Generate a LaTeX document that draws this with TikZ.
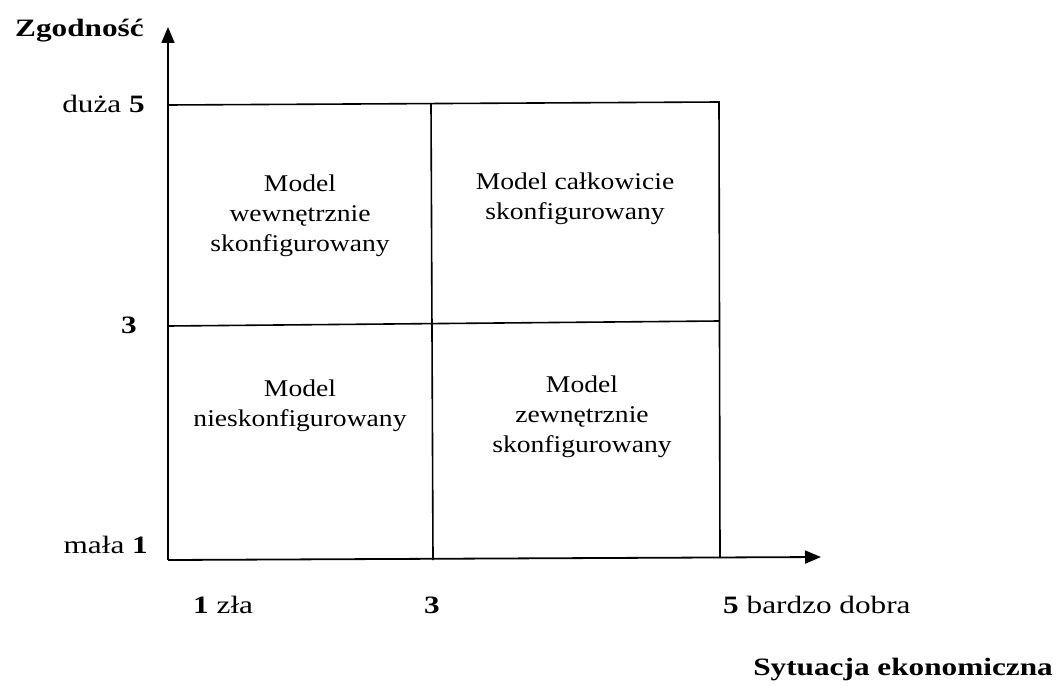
\documentclass[tikz,border=0pt]{standalone}
\usepackage{fontspec}
\setmainfont{Liberation Serif}[FakeStretch=1.25]
\newfontfamily\cellfont{Liberation Serif}[FakeStretch=1.15]
\usetikzlibrary{arrows.meta}

\begin{document}
\begin{tikzpicture}[x=1pt,y=-1pt,
  axis/.style={line width=1.8pt,-{Triangle[length=16pt,width=13pt]}},
  grid/.style={line width=1.6pt},
  lbl/.style={font=\fontsize{25}{28}\selectfont, inner sep=0pt},
  cell/.style={font=\cellfont\fontsize{24}{30}\selectfont, align=center, inner sep=0pt}]
\useasboundingbox (0,0) rectangle (1059,685);

% axis origin, arrow tips and the corners of the four fields
\coordinate (O) at (168,560);
\coordinate (ytip) at (168,27);
\coordinate (xtip) at (821,557);
\coordinate (TL) at (168,105);
\coordinate (TM) at (431,104);
\coordinate (TR) at (719,102);
\coordinate (ML) at (168,326);
\coordinate (MR) at (719,321);
\coordinate (BM) at (433,560);
\coordinate (BR) at (720,558);

% axes
\draw[axis] (O) -- (ytip);
\draw[axis] (O) -- (xtip);

% field borders
\draw[grid] (TL) -- (TR) -- (BR);
\draw[grid] (ML) -- (MR);
\draw[grid] (TM) -- (BM);

% axis labels
\node[lbl, anchor=base west] (zg) at (15,37) {\textbf{Zgodność}};
\node[lbl, anchor=base east] (duza) at (145,112) {duża \textbf{5}};
\node[lbl, anchor=base] (y3) at (129,333) {\textbf{3}};
\node[lbl, anchor=base east] (mala) at (148,553) {mała \textbf{1}};
\node[lbl, anchor=base west] (x1) at (193,613) {\textbf{1} zła};
\node[lbl, anchor=base] (x3) at (432,613) {\textbf{3}};
\node[lbl, anchor=base west] (x5) at (723,613) {\textbf{5} bardzo dobra};
\node[lbl, anchor=base east] (sy) at (1053,675) {\textbf{Sytuacja ekonomiczna}};

% field names
\node[cell] (ul) at (300,216) {Model\\wewnętrznie\\skonfigurowany};
\node[cell] (ur) at (575,199) {Model całkowicie\\skonfigurowany};
\node[cell] (ll) at (300,406) {Model\\nieskonfigurowany};
\node[cell] (lr) at (582,417) {Model\\zewnętrznie\\skonfigurowany};
\end{tikzpicture}
\end{document}
